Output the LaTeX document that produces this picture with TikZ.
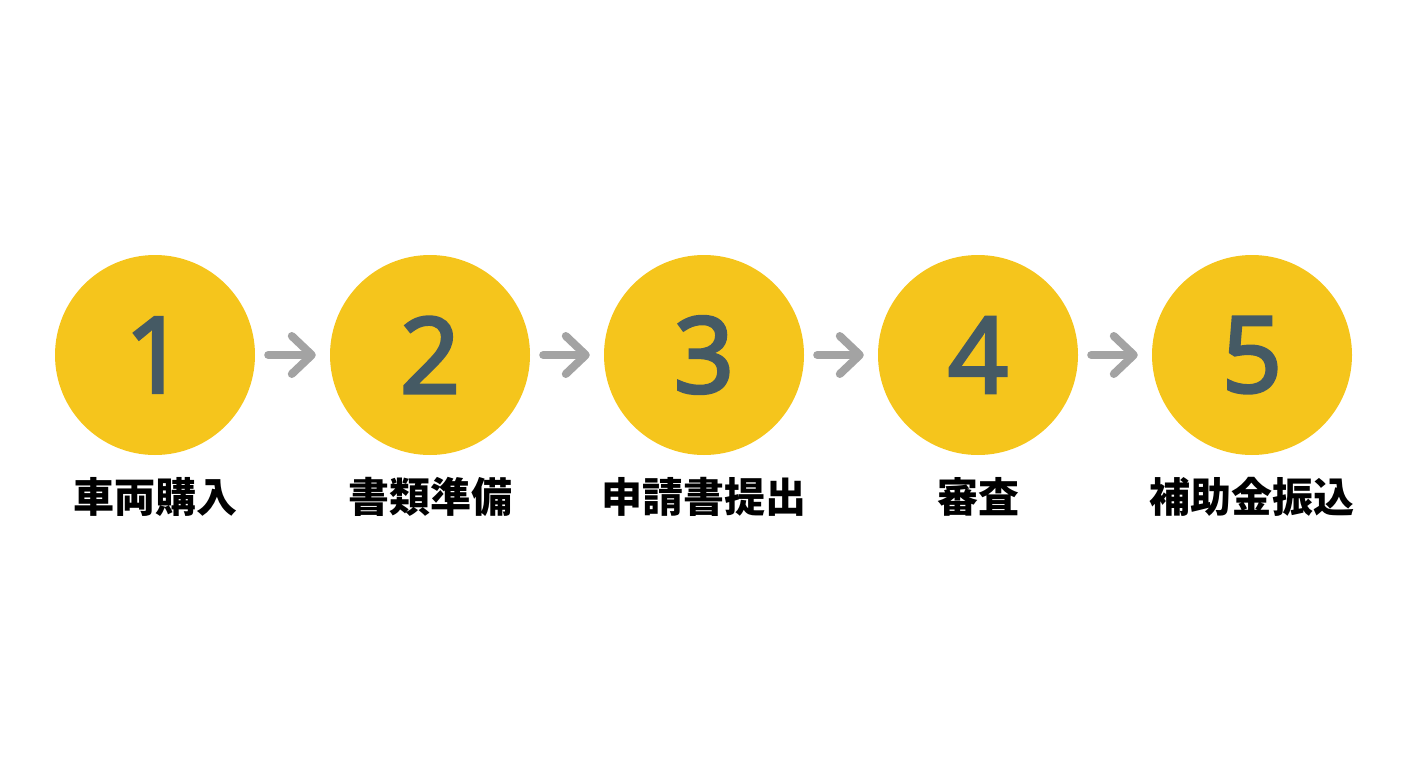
\documentclass[tikz,border=0pt]{standalone}
\usepackage{fontspec}
\setmainfont{Noto Sans}
\newfontfamily\cjk{Noto Sans CJK JP}
\newfontfamily\digitfont[FakeBold=2.5]{Noto Sans}
\usepackage{tikz}
\usetikzlibrary{arrows.meta,
                positioning}

\definecolor{stepyellow}{HTML}{F5C51C}
\definecolor{digitslate}{HTML}{455A64}
\definecolor{arrowgray}{HTML}{A3A3A3}

\tikzset{
  stepcircle/.style={circle, fill=stepyellow, minimum size=200pt, inner sep=0pt,
                     text=digitslate, font=\digitfont\fontsize{106}{106}\selectfont},
  steplabel/.style={text=black, inner sep=0pt, font=\cjk\bfseries\fontsize{41}{41}\selectfont},
  flowarrow/.style={arrowgray, line width=8pt, line cap=round,
                    -{Straight Barb[length=20pt, width=38pt, line join=round, line cap=round]},
                    shorten <=13pt, shorten >=14pt}
}

\begin{document}
\begin{tikzpicture}[x=1pt,y=-1pt]
\useasboundingbox (0,0) rectangle (1408,768);
% steps
\foreach \i/\x/\t in {1/155/車両購入,2/430/書類準備,3/704/申請書提出,4/978/審査,5/1252/補助金振込}
{
  \node[stepcircle] (c\i) at (\x,355) {\i};
  \node[steplabel] (l\i) at (\x,497) {\t};
}
% arrows
\foreach \i [evaluate=\i as \j using int(\i+1)] in {1,...,4}
  \draw[flowarrow] (c\i) -- (c\j);
\end{tikzpicture}
\end{document}
